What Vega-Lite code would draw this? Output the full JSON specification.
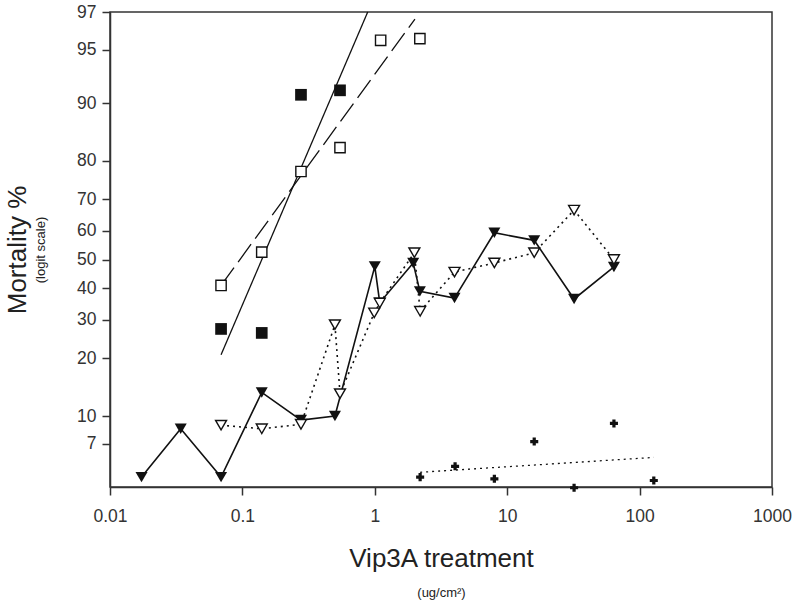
{
  "$schema": "https://vega.github.io/schema/vega-lite/v6.json",
  "autosize": "none",
  "width": 662,
  "height": 475,
  "padding": {"left": 110, "top": 12, "right": 24, "bottom": 116},
  "background": "white",
  "config": {
    "view": {"stroke": "#333", "strokeWidth": 1.5},
    "font": "Liberation Sans",
    "axis": {"grid": false, "domainColor": "#333", "domainWidth": 1.5, "tickColor": "#333", "tickWidth": 1.5, "labelColor": "#333", "titleColor": "#222", "titleFontWeight": "normal", "labelFlush": false, "labelOverlap": false, "labelBound": false}
  },
  "data": {
    "values": [
      {"s": "tri_f", "dose": 0.0173, "m": 4.5},
      {"s": "tri_f", "dose": 0.0342, "m": 8.5},
      {"s": "tri_f", "dose": 0.069, "m": 4.5},
      {"s": "tri_f", "dose": 0.14, "m": 13.4},
      {"s": "tri_f", "dose": 0.277, "m": 9.5},
      {"s": "tri_f", "dose": 0.5, "m": 10.0},
      {"s": "tri_f", "dose": 1.0, "m": 47.6},
      {"s": "tri_f", "dose": 1.09, "m": 35.3},
      {"s": "tri_f", "dose": 1.95, "m": 48.8},
      {"s": "tri_f", "dose": 2.19, "m": 39.0},
      {"s": "tri_f", "dose": 4.0, "m": 36.8},
      {"s": "tri_f", "dose": 8.0, "m": 59.3},
      {"s": "tri_f", "dose": 16.0, "m": 56.7},
      {"s": "tri_f", "dose": 32.0, "m": 36.5},
      {"s": "tri_f", "dose": 64.0, "m": 47.4},
      {"s": "tri_o", "dose": 0.069, "m": 8.9},
      {"s": "tri_o", "dose": 0.14, "m": 8.5},
      {"s": "tri_o", "dose": 0.277, "m": 9.0},
      {"s": "tri_o", "dose": 0.5, "m": 28.6},
      {"s": "tri_o", "dose": 0.546, "m": 13.2},
      {"s": "tri_o", "dose": 0.99, "m": 32.1},
      {"s": "tri_o", "dose": 1.09, "m": 35.2},
      {"s": "tri_o", "dose": 1.99, "m": 52.4},
      {"s": "tri_o", "dose": 2.2, "m": 32.6},
      {"s": "tri_o", "dose": 4.0, "m": 45.6},
      {"s": "tri_o", "dose": 8.0, "m": 48.8},
      {"s": "tri_o", "dose": 16.0, "m": 52.4},
      {"s": "tri_o", "dose": 32.0, "m": 66.7},
      {"s": "tri_o", "dose": 64.0, "m": 50.0},
      {"s": "sq_f", "dose": 0.069, "m": 27.4},
      {"s": "sq_f", "dose": 0.14, "m": 26.3},
      {"s": "sq_f", "dose": 0.277, "m": 91.0},
      {"s": "sq_f", "dose": 0.546, "m": 91.5},
      {"s": "sq_o", "dose": 0.069, "m": 41.0},
      {"s": "sq_o", "dose": 0.14, "m": 52.6},
      {"s": "sq_o", "dose": 0.277, "m": 77.5},
      {"s": "sq_o", "dose": 0.546, "m": 82.8},
      {"s": "sq_o", "dose": 1.107, "m": 95.6},
      {"s": "sq_o", "dose": 2.19, "m": 95.7},
      {"s": "cross", "dose": 2.2, "m": 4.5},
      {"s": "cross", "dose": 4.04, "m": 5.2},
      {"s": "cross", "dose": 8.0, "m": 4.4},
      {"s": "cross", "dose": 16.0, "m": 7.2},
      {"s": "cross", "dose": 32.0, "m": 3.9},
      {"s": "cross", "dose": 64.0, "m": 9.1},
      {"s": "cross", "dose": 128.0, "m": 4.3},
      {"s": "fit_sq_f", "dose": 0.069, "m": 20.8},
      {"s": "fit_sq_f", "dose": 0.884, "m": 97.0},
      {"s": "fit_sq_o", "dose": 0.069, "m": 41.0},
      {"s": "fit_sq_o", "dose": 2.01, "m": 96.7},
      {"s": "fit_cross", "dose": 2.2, "m": 4.8},
      {"s": "fit_cross", "dose": 128.0, "m": 5.85}
    ]
  },
  "transform": [{"calculate": "log(datum.m / (100 - datum.m))", "as": "lg"}],
  "encoding": {
    "x": {"field": "dose", "type": "quantitative", "scale": {"type": "log", "domain": [0.01, 1000], "nice": false}, "axis": null},
    "y": {"field": "lg", "type": "quantitative", "scale": {"domain": [-3.194, 3.4762], "nice": false, "zero": false}, "axis": null}
  },
  "layer": [
    {
      "transform": [{"filter": "datum.s === 'fit_sq_f'"}],
      "mark": {"type": "line", "color": "#111", "strokeWidth": 1.3},
      "encoding": {
        "x": {"field": "dose", "type": "quantitative", "scale": {"type": "log", "domain": [0.01, 1000], "nice": false},
          "axis": {"orient": "bottom", "values": [0.01, 0.1, 1, 10, 100, 1000], "labelExpr": "'' + datum.value", "tickSize": 8, "labelFontSize": 17.5, "labelPadding": 12, "title": "Vip3A treatment", "titleFontSize": 26, "titlePadding": 21}},
        "y": {"field": "lg", "type": "quantitative", "scale": {"domain": [-3.194, 3.4762], "nice": false, "zero": false},
          "axis": {"orient": "left", "values": [3.4761, 2.9444, 2.1972, 1.3863, 0.8473, 0.4055, 0, -0.4055, -0.8473, -1.3863, -2.1972, -2.5867], "labelExpr": "format(100 / (1 + exp(-datum.value)), '.0f')", "tickSize": 8, "labelFontSize": 17.5, "labelPadding": 6, "title": "(logit scale)", "titleFontSize": 13, "titlePadding": 29}}
      }
    },
    {
      "transform": [{"filter": "datum.s === 'fit_sq_o'"}],
      "mark": {"type": "line", "color": "#111", "strokeWidth": 1.3, "strokeDash": [22, 7]},
      "encoding": {
        "x": {"field": "dose", "type": "quantitative", "scale": {"type": "log", "domain": [0.01, 1000], "nice": false},
          "axis": {"orient": "bottom", "labels": false, "ticks": false, "domain": false, "title": "(ug/cm²)", "titleFontSize": 13, "titlePadding": 99}},
        "y": {"field": "lg", "type": "quantitative", "scale": {"domain": [-3.194, 3.4762], "nice": false, "zero": false},
          "axis": {"orient": "left", "labels": false, "ticks": false, "domain": false, "title": "Mortality %", "titleFontSize": 26, "titlePadding": 80}}
      }
    },
    {
      "transform": [{"filter": "datum.s === 'fit_cross'"}],
      "mark": {"type": "line", "color": "#111", "strokeWidth": 1.3, "strokeDash": [2, 4]}
    },
    {
      "transform": [{"filter": "datum.s === 'tri_f'"}],
      "mark": {"type": "line", "color": "#111", "strokeWidth": 1.6}
    },
    {
      "transform": [{"filter": "datum.s === 'tri_o'"}],
      "mark": {"type": "line", "color": "#111", "strokeWidth": 1.6, "strokeDash": [2, 4]}
    },
    {
      "transform": [{"filter": "datum.s === 'sq_f'"}],
      "mark": {"type": "point", "shape": "square", "filled": true, "color": "#111", "size": 137, "opacity": 1}
    },
    {
      "transform": [{"filter": "datum.s === 'sq_o'"}],
      "mark": {"type": "point", "shape": "square", "filled": true, "fill": "white", "stroke": "#111", "strokeWidth": 1.4, "size": 106, "opacity": 1}
    },
    {
      "transform": [{"filter": "datum.s === 'cross'"}],
      "mark": {"type": "point", "shape": "cross", "filled": true, "color": "#111", "size": 65, "opacity": 1}
    },
    {
      "transform": [{"filter": "datum.s === 'tri_f'"}],
      "mark": {"type": "point", "shape": "triangle-down", "filled": true, "color": "#111", "size": 145, "opacity": 1}
    },
    {
      "transform": [{"filter": "datum.s === 'tri_o'"}],
      "mark": {"type": "point", "shape": "triangle-down", "filled": true, "fill": "white", "stroke": "#111", "strokeWidth": 1.4, "size": 120, "opacity": 1}
    }
  ],
  "resolve": {"axis": {"x": "independent", "y": "independent"}}
}
